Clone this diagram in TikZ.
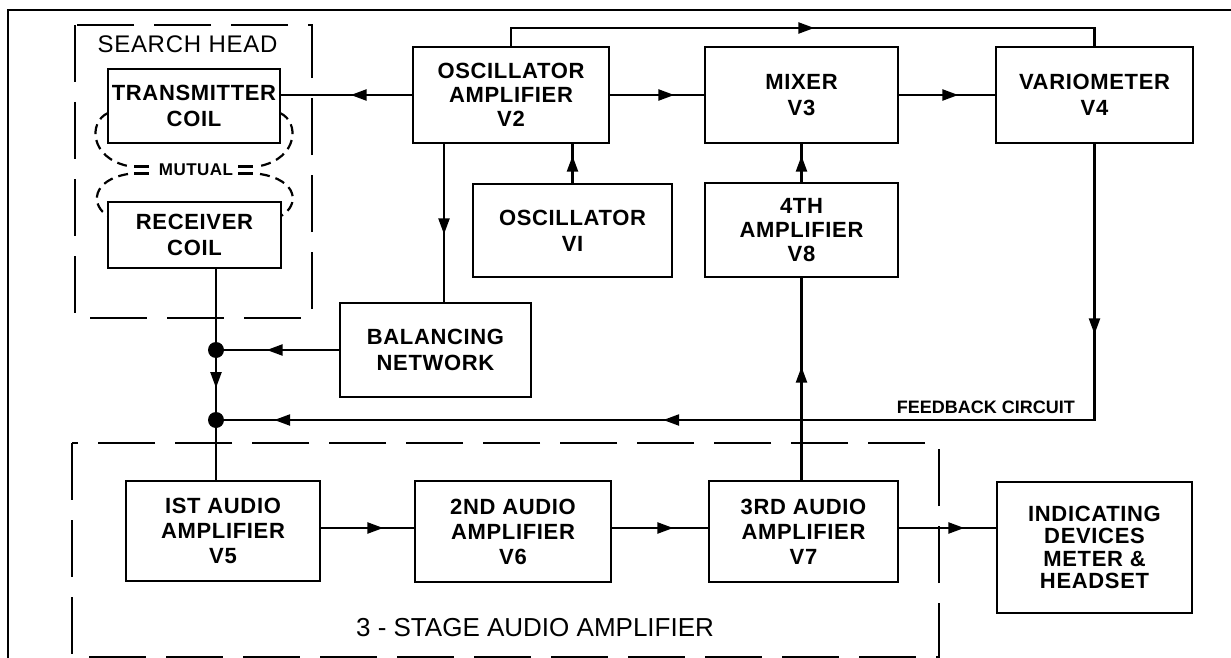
\documentclass[tikz,border=0pt]{standalone}
\usepackage{fontspec}
\setmainfont{Liberation Sans}
\newfontfamily\boxfont[LetterSpace=3]{Liberation Sans}
\usetikzlibrary{arrows.meta,decorations.markings,calc}
\begin{document}
\begin{tikzpicture}[x=1pt,y=-1pt,
  box/.style={draw,line width=2.6pt,inner sep=0pt,align=center,font=\boxfont\fontsize{22}{26}\selectfont\bfseries},
  conn/.style={line width=2.4pt},
  arr/.style={postaction={decorate,decoration={markings,mark=at position #1 with {\arrow{Triangle[length=16pt,width=11pt]}}}}},
  dashbox/.style={line width=2.6pt,dash pattern=on 57pt off 20pt},
  mut/.style={line width=2.2pt,dash pattern=on 10pt off 6pt},
  bar/.style={line width=2.2pt},
  lbl/.style={inner sep=0pt}
]
\useasboundingbox (0,0) rectangle (1231,658);
% outer frame
\draw[line width=2.5pt] (8,658) -- (8,10) -- (1231,10);

% group boxes
\draw[dashbox] (75,25) rectangle (312,318);
\node[lbl,font=\boxfont\fontsize{24}{28}\selectfont] (shl) at (187.5,44.5) {SEARCH HEAD};
\draw[dashbox] (72,443) rectangle (939,657);
\node[lbl,font=\fontsize{26}{30}\selectfont] (stl) at (535,627.5) {3 - STAGE AUDIO AMPLIFIER};

% blocks
\node[box,minimum width=172pt,minimum height=74pt] (tx) at (194,106) {TRANSMITTER\\COIL};
\node[box,minimum width=173pt,minimum height=66pt] (rx) at (194.5,235) {RECEIVER\\COIL};
\node[box,minimum width=196pt,minimum height=96pt,font=\boxfont\fontsize{22}{24}\selectfont\bfseries] (v2) at (511,95) {OSCILLATOR\\AMPLIFIER\\V2};
\node[box,minimum width=193pt,minimum height=96pt] (v3) at (801.5,95) {MIXER\\V3};
\node[box,minimum width=197pt,minimum height=96pt] (v4) at (1094.5,95) {VARIOMETER\\V4};
\node[box,minimum width=199pt,minimum height=93pt] (v1) at (572.5,230.5) {OSCILLATOR\\VI};
\node[box,minimum width=193pt,minimum height=94pt,font=\boxfont\fontsize{22}{24}\selectfont\bfseries] (v8) at (801.5,230) {4TH\\AMPLIFIER\\V8};
\node[box,minimum width=191pt,minimum height=94pt] (bal) at (435.5,350) {BALANCING\\NETWORK};
\node[box,minimum width=194pt,minimum height=100pt,font=\boxfont\fontsize{22}{25}\selectfont\bfseries] (v5) at (223,531) {IST AUDIO\\AMPLIFIER\\V5};
\node[box,minimum width=196pt,minimum height=101pt,font=\boxfont\fontsize{22}{25}\selectfont\bfseries] (v6) at (513,531.5) {2ND AUDIO\\AMPLIFIER\\V6};
\node[box,minimum width=189pt,minimum height=101pt,font=\boxfont\fontsize{22}{25}\selectfont\bfseries] (v7) at (803.5,531.5) {3RD AUDIO\\AMPLIFIER\\V7};
\node[box,minimum width=195pt,minimum height=131pt,font=\boxfont\fontsize{22}{22.5}\selectfont\bfseries] (ind) at (1094.5,547.5) {INDICATING\\DEVICES\\METER \&\\HEADSET};

% mutual coupling
\node[lbl,font=\boxfont\fontsize{17}{19}\selectfont\bfseries] (mu) at (196,170) {MUTUAL};
\draw[mut] (108,113) .. controls (88,122) and (90,158) .. (128,166);
\draw[mut] (280,113) .. controls (300,122) and (298,158) .. (260,166);
\draw[mut] (128,174) .. controls (92,180) and (90,205) .. (108,216);
\draw[mut] (260,174) .. controls (298,180) and (300,205) .. (281,216);
\draw[bar] (134,166.5) -- (149,166.5);
\draw[bar] (134,173.5) -- (149,173.5);
\draw[bar] (238,166.5) -- (253,166.5);
\draw[bar] (238,173.5) -- (253,173.5);

% coordinates
\coordinate (topy) at (0,28);
\coordinate (bx) at (444,0);
\coordinate (j1) at (216,350);
\coordinate (j2) at (216,420);
\coordinate (ly) at (0,528);

% connectors
\draw[conn,arr=61pt] (v2.west) -- (v2.west -| tx.east);
\draw[conn,arr=64pt] (v2.east) -- (v3.west);
\draw[conn,arr=59pt] (v3.east) -- (v4.west);
\draw[conn,arr=321pt] (v2.north) -- (v2.north |- topy) -- (v4.north |- topy) -- (v4.north);
\draw[conn,arr=27pt] (v1.north) -- (v1.north |- v2.south);
\draw[conn,arr=26pt] (v8.north) -- (v3.south);
\draw[conn,arr=90pt] (v2.south -| bx) -- (bal.north -| bx);
\draw[conn,arr=72pt] (bal.west) -- (j1);
\draw[conn] (rx.south -| j1) -- (j1);
\draw[conn,arr=38pt] (j1) -- (j2);
\draw[conn] (j2) -- (v5.north -| j2);
\draw[conn,arr=190pt,arr=707pt,arr=1096pt] (v4.south) -- (v4.south |- j2) -- (j2);
\draw[conn,arr=113pt] (v7.north -| v8.south) -- (v8.south);
\draw[conn,arr=62pt] (v5.east |- ly) -- (v6.west |- ly);
\draw[conn,arr=61pt] (v6.east |- ly) -- (v7.west |- ly);
\draw[conn,arr=65pt] (v7.east |- ly) -- (ind.west |- ly);
\fill (j1) circle (8pt);
\fill (j2) circle (8pt);

\node[lbl,font=\fontsize{18}{20}\selectfont\bfseries,anchor=base east] (fb) at (1075,413) {FEEDBACK CIRCUIT};
\end{tikzpicture}
\end{document}
